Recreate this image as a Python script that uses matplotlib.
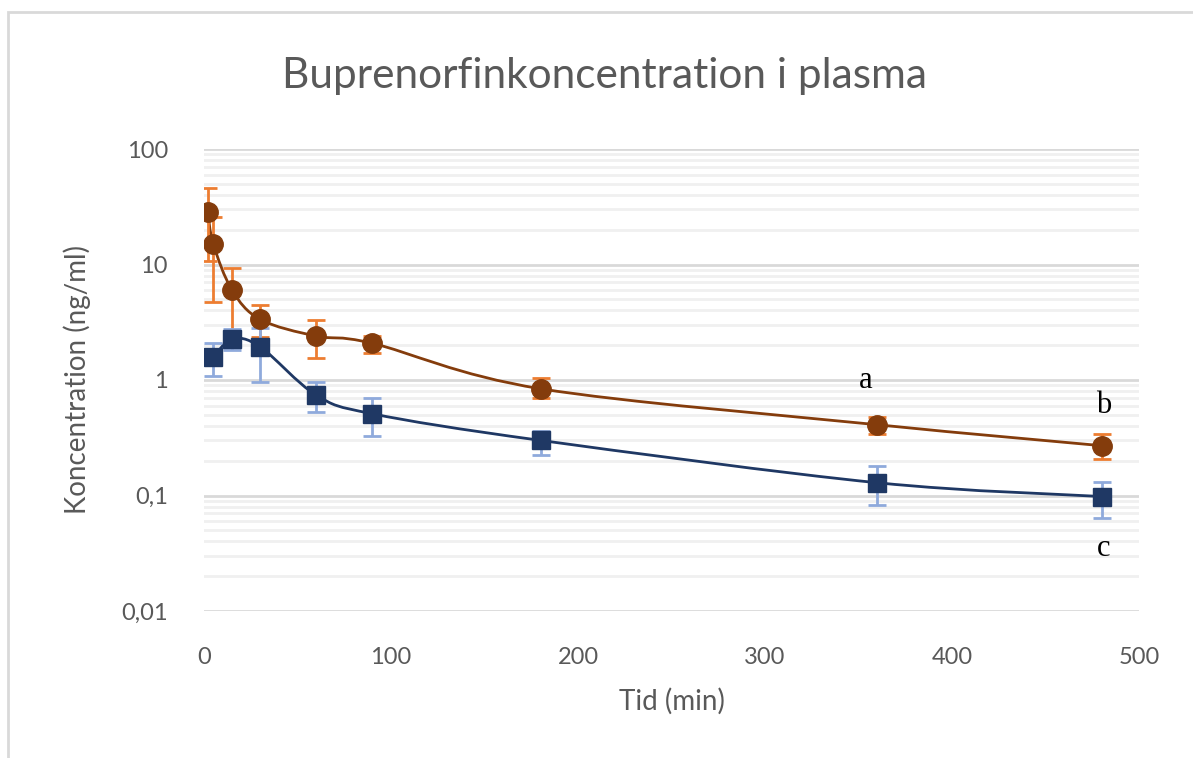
#!/usr/bin/env python3
"""Buprenorfinkoncentration i plasma - log plot with smoothed lines"""

import numpy as np
import matplotlib
matplotlib.use('Agg')
import matplotlib.pyplot as plt
from matplotlib.path import Path
from matplotlib.patches import PathPatch, Rectangle

# data
tid_orange = [2, 5, 15, 30, 60, 90, 180, 360, 480]
konc_orange = [28.5, 15.0, 6.0, 3.35, 2.4, 2.08, 0.84, 0.41, 0.27]
orange_hi = [46, 26, 9.3, 4.5, 3.3, 2.4, 1.04, 0.48, 0.34]
orange_lo = [10.8, 4.7, 2.6, 2.36, 1.55, 1.71, 0.70, 0.34, 0.207]

tid_blue = [5, 15, 30, 60, 90, 180, 360, 480]
konc_blue = [1.58, 2.26, 1.94, 0.74, 0.51, 0.30, 0.129, 0.098]
blue_hi = [2.1, 2.76, 2.8, 0.96, 0.70, 0.36, 0.18, 0.13]
blue_lo = [1.09, 1.82, 0.96, 0.53, 0.33, 0.224, 0.082, 0.064]

y_ticks = [0.01, 0.1, 1, 10, 100]
y_ticklabels = ['0,01', '0,1', '1', '10', '100']
x_ticks = [0, 100, 200, 300, 400, 500]

annot = [('a', 354, 1.0), ('b', 481, 0.6), ('c', 481, 0.035)]


def smooth_path(xs, ys):
    """Excel-like smoothed line: cubic bezier through points in (x, log y)"""
    pts = np.column_stack([xs, np.log10(ys)])
    n = len(pts)
    verts = [pts[0]]
    codes = [Path.MOVETO]
    for i in range(n - 1):
        p0 = pts[max(i - 1, 0)]
        p1 = pts[i]
        p2 = pts[i + 1]
        p3 = pts[min(i + 2, n - 1)]
        c1 = p1 + (p2 - p0) / 6.0
        c2 = p2 - (p3 - p1) / 6.0
        verts += [c1, c2, p2]
        codes += [Path.CURVE4] * 3
    verts = np.array(verts)
    verts[:, 1] = 10 ** verts[:, 1]
    return Path(verts, codes)


def draw_series(ax, xs, ys, lo, hi, line_col, err_col, marker, ms):
    path = smooth_path(xs, ys)
    ax.add_patch(PathPatch(path, fill=False, edgecolor=line_col, linewidth=2.0, zorder=3))
    ys = np.array(ys)
    yerr = [ys - np.array(lo), np.array(hi) - ys]
    ax.errorbar(xs, ys, yerr=yerr, fmt='none', ecolor=err_col, elinewidth=2.0,
                capsize=6.5, capthick=2.0, zorder=4)
    ax.plot(xs, ys, linestyle='none', marker=marker, markersize=ms,
            color=line_col, markeredgecolor=line_col, zorder=5)


plt.rcParams['font.family'] = ['Lato', 'DejaVu Sans']

fig = plt.figure(figsize=(11.93, 7.58), dpi=100)
ax = fig.add_axes([204 / 1193, 1 - 611 / 758, (1139 - 204) / 1193, (611 - 149) / 758])

# chart area border (cropped on right/bottom)
fig.patches.append(Rectangle((8 / 1193, -0.1), 1.2, 1 - 12 / 758 + 0.1,
                             transform=fig.transFigure, fill=False,
                             edgecolor='#d9d9d9', linewidth=2.0))

ax.set_yscale('log')
ax.set_xlim(0, 500)
ax.set_ylim(0.01, 100)

draw_series(ax, tid_orange, konc_orange, orange_lo, orange_hi,
            '#843c0c', '#ed7d31', 'o', 14)
draw_series(ax, tid_blue, konc_blue, blue_lo, blue_hi,
            '#1f3864', '#8faadc', 's', 13)

for txt, xv, yv in annot:
    ax.text(xv, yv, txt, fontsize=22, family=['Liberation Serif', 'DejaVu Serif'],
            color='black', ha='center', va='center')

for s in ax.spines.values():
    s.set_visible(False)

ax.set_yticks(y_ticks)
ax.set_yticklabels(y_ticklabels)
ax.set_xticks(x_ticks)
ax.yaxis.set_minor_formatter(plt.NullFormatter())
ax.tick_params(axis='both', which='both', length=0, labelsize=17, labelcolor='#595959')
ax.tick_params(axis='y', pad=26)
ax.tick_params(axis='x', pad=26)

ax.grid(True, which='major', axis='y', color='#d9d9d9', linewidth=2.0, zorder=0)
ax.grid(True, which='minor', axis='y', color='#f0f0f0', linewidth=2.0, zorder=0)
ax.set_axisbelow(True)

ax.set_xlabel('Tid (min)', fontsize=20, color='#595959', labelpad=14)
ax.set_ylabel('Koncentration (ng/ml)', fontsize=20, color='#595959', labelpad=22)

fig.text(605 / 1193, 1 - 76 / 758, 'Buprenorfinkoncentration i plasma',
         fontsize=30.5, color='#595959', ha='center', va='center')

fig.savefig('out.png', dpi=100)
